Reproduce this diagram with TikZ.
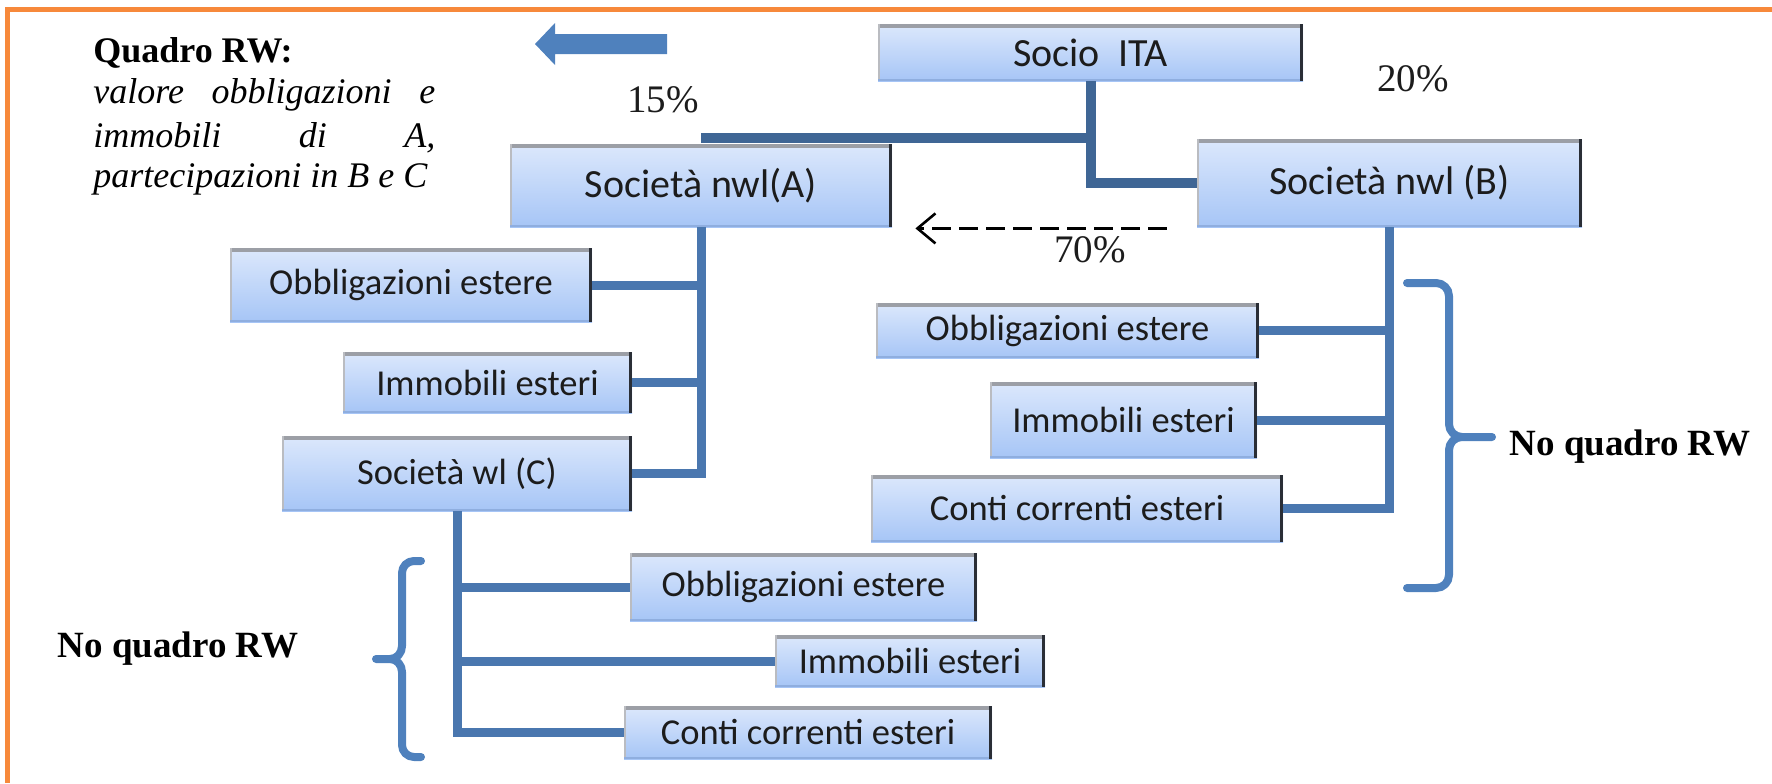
\documentclass[tikz,border=0pt]{standalone}
\usepackage{fontspec}
\setmainfont{Liberation Serif}
\newfontfamily\boxfont{Carlito}
\usetikzlibrary{arrows.meta}

\definecolor{framec}{HTML}{F7893B}
\definecolor{linec}{HTML}{4A77AF}
\definecolor{linetop}{HTML}{3F6695}
\definecolor{arrowc}{HTML}{4F81BD}
\definecolor{boxtop}{HTML}{DCE8FC}
\definecolor{boxbot}{HTML}{A6C5F6}
\definecolor{boxshade}{HTML}{9C9FA6}
\definecolor{boxedge}{HTML}{2A2E36}
\definecolor{boxbase}{HTML}{8FAEDF}
\definecolor{inkc}{HTML}{1C1C1C}

\begin{document}
\begin{tikzpicture}[x=0.5pt,y=-0.5pt,
  sbox/.style={draw=none, inner sep=0pt, top color=boxtop, bottom color=boxbot,
    text=inkc,
    path picture={
      \fill[boxshade] (path picture bounding box.north west) rectangle ([yshift=-2pt]path picture bounding box.north east);
      \fill[boxshade!70] (path picture bounding box.north west) rectangle ([xshift=1.2pt]path picture bounding box.south west);
      \fill[boxbase] ([yshift=1pt]path picture bounding box.south west) rectangle (path picture bounding box.south east);
      \fill[boxedge] ([xshift=-1.5pt]path picture bounding box.north east) rectangle (path picture bounding box.south east);
    }},
  bigbox/.style={sbox, font=\boxfont\fontsize{20pt}{24pt}\selectfont},
  smallbox/.style={sbox, font=\boxfont\fontsize{18.25pt}{22pt}\selectfont},
  link/.style={draw=linec, line width=4.5pt},
  toplink/.style={draw=linetop, line width=5pt},
  brace/.style={draw=arrowc, line width=4pt, line join=round, line cap=round},
  pct/.style={inner sep=0pt, text=inkc, font=\fontsize{19.5pt}{23pt}\selectfont},
  note/.style={inner sep=0pt, text=black, font=\bfseries\fontsize{18.5pt}{22pt}\selectfont},
  para/.style={inner sep=0pt, text=black, font=\itshape\fontsize{18pt}{21pt}\selectfont},
  ownarrow/.style={draw=black, line width=1.3pt, dash pattern=on 9.5pt off 4pt,
    -{Straight Barb[length=9pt,width=15pt,line width=1.3pt]}}
]
\useasboundingbox (0,0) rectangle (1772,783);

% orange frame (top and left sides)
\fill[framec] (5,7) rectangle (1772,12);
\fill[framec] (5,7) rectangle (10,783);

% boxes
\node[bigbox, minimum width=212.5pt, minimum height=28.5pt] (socio) at (1090.5,52.5) {Socio\ \ ITA};
\node[bigbox, minimum width=191pt, minimum height=41.5pt] (A) at (701,185.5) {Società nwl(A)};
\node[bigbox, minimum width=192.5pt, minimum height=44pt] (B) at (1389.5,183) {Società nwl (B)};

\node[smallbox, minimum width=181pt, minimum height=37pt] (obA) at (411,285) {Obbligazioni estere};
\node[smallbox, minimum width=144.5pt, minimum height=30.5pt] (imA) at (487.5,382.5) {Immobili esteri};
\node[smallbox, minimum width=175pt, minimum height=37.5pt] (C) at (457,473.5) {Società wl (C)};

\node[smallbox, minimum width=173.5pt, minimum height=34pt] (obC) at (803.5,587) {Obbligazioni estere};
\node[smallbox, minimum width=135pt, minimum height=26pt] (imC) at (910,661) {Immobili esteri};
\node[smallbox, minimum width=184pt, minimum height=26.5pt] (coC) at (808,732.5) {Conti correnti esteri};

\node[smallbox, minimum width=191.5pt, minimum height=27.5pt] (obB) at (1067.5,330.5) {Obbligazioni estere};
\node[smallbox, minimum width=133.5pt, minimum height=38pt] (imB) at (1123.5,420) {Immobili esteri};
\node[smallbox, minimum width=206pt, minimum height=33.5pt] (coB) at (1077,508.5) {Conti correnti esteri};

% ownership links from the Italian partner
\draw[toplink] (socio.south) |- (B.west);
\path (socio.south) ++(0,57) coordinate (jA);
\draw[toplink] (jA) -- (jA -| A.north);

% holdings of A
\draw[link] (A.south) |- (C.east);
\draw[link] (obA.east) -- (obA.east -| A.south);
\draw[link] (imA.east) -- (imA.east -| A.south);

% holdings of C
\draw[link] (C.south) |- (coC.west);
\draw[link] (obC.west) -- (obC.west -| C.south);
\draw[link] (imC.west) -- (imC.west -| C.south);

% holdings of B
\draw[link] (B.south) |- (coB.east);
\draw[link] (obB.east) -- (obB.east -| B.south);
\draw[link] (imB.east) -- (imB.east -| B.south);

% 70% stake of A in B
\draw[ownarrow] ([xshift=-15pt,yshift=-0.5pt]B.south west) -- ([xshift=11.5pt,yshift=-0.5pt]A.south east);
\node[pct, anchor=base] (p70) at (1090,262) {70\%};
\node[pct, anchor=base] (p15) at (663,112) {15\%};
\node[pct, anchor=base] (p20) at (1413,91) {20\%};

% block arrow pointing to the note
\fill[arrowc] (535,44) -- (555,23) -- (555,34) -- (667,34) -- (667,54) -- (555,54) -- (555,65) -- cycle;

% note on the RW form
\node[note, anchor=base west, font=\bfseries\fontsize{18pt}{21pt}\selectfont] (qrw) at (93,62) {Quadro RW:};
\node[para, anchor=base west] (l1) at (93,103) {\hbox to 171pt{valore\hfill obbligazioni\hfill e}};
\node[para, anchor=base west] (l2) at (93,147) {\hbox to 171pt{immobili\hfill di\hfill A,}};
\node[para, anchor=base west] (l3) at (93,187) {partecipazioni in B e C};

% braces
\draw[brace] (1407,283) -- (1436,283) to[out=0,in=90] (1449,296) -- (1449,424)
  to[out=-90,in=180] (1462,437) -- (1492,437) -- (1462,437)
  to[out=180,in=90] (1449,450) -- (1449,575) to[out=-90,in=0] (1436,588) -- (1407,588);
\node[note, anchor=base] (nqB) at (1630,455) {No quadro RW};

\draw[brace] (421,561) -- (414,561) to[out=180,in=90] (402,573) -- (402,646)
  to[out=-90,in=0] (390,659) -- (376,659) -- (390,659)
  to[out=0,in=90] (402,672) -- (402,745) to[out=-90,in=180] (414,757) -- (421,757);
\node[note, anchor=base] (nqC) at (178,657) {No quadro RW};
\end{tikzpicture}
\end{document}
